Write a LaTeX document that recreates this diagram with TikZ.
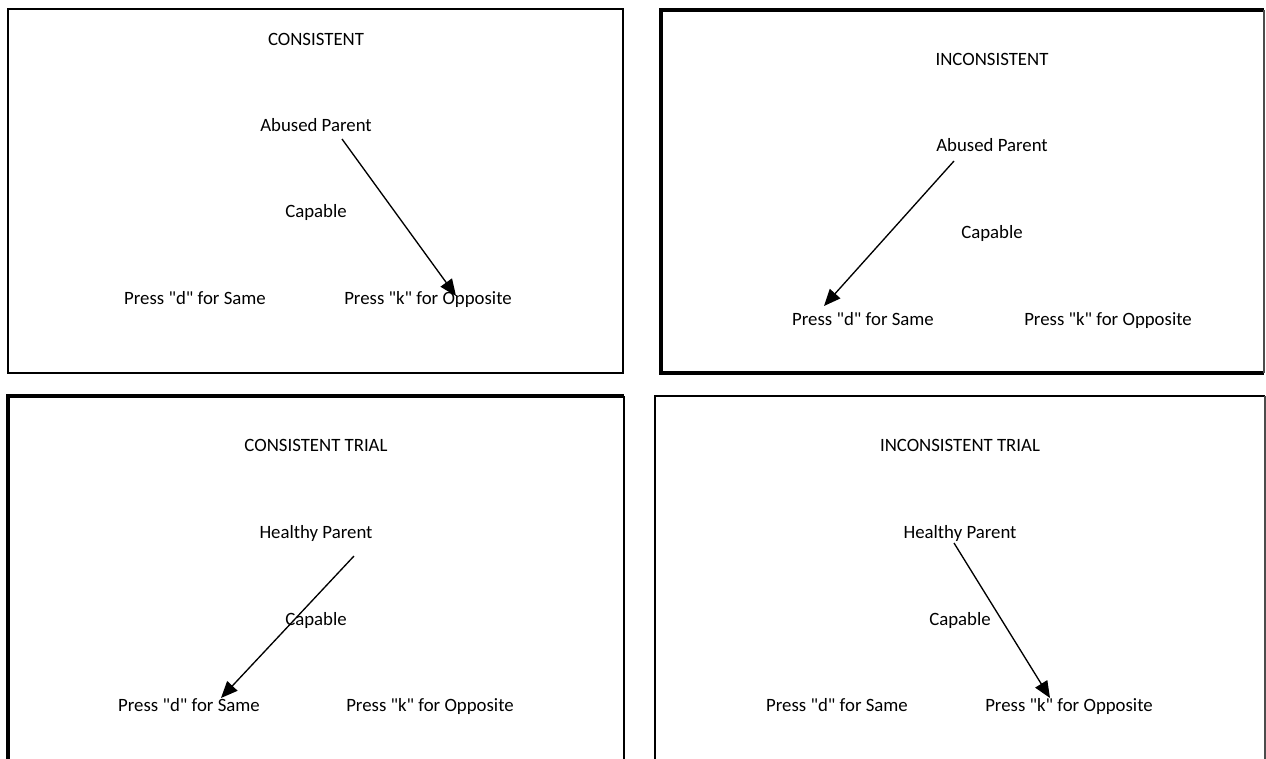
\documentclass[tikz,border=0pt]{standalone}
\usepackage{fontspec}
\setmainfont{Carlito}
\usetikzlibrary{arrows.meta}
\newcommand{\qq}{\textquotedbl}
\begin{document}
\begin{tikzpicture}[x=0.75pt,y=-0.75pt,
  lbl/.style={font=\fontsize{14.1}{16}\selectfont, anchor=base, inner sep=0pt},
  thinframe/.style={draw=black, line width=1.2pt},
  thickframe/.style={draw=black, line width=2.3pt},
  faintframe/.style={draw=black!70, line width=0.9pt},
  choice/.style={draw=black, line width=1pt, -{Triangle[length=12.5pt, width=10.5pt]}, shorten >=0pt}
]
\useasboundingbox (0,0) rectangle (1266,758);
\fill[white] (0,0) rectangle (1266,758);

% ---------- Panel 1: CONSISTENT ----------
\draw[thinframe] (8,9) rectangle (623,373);
\node[lbl] (t1) at (316,45) {CONSISTENT};
\node[lbl] (p1) at (316,131) {Abused Parent};
\node[lbl] (c1) at (316,217) {Capable};
\node[lbl] (d1) at (195,304) {Press \qq d\qq{} for Same};
\node[lbl] (k1) at (428,304) {Press \qq k\qq{} for Opposite};
\coordinate (s1) at (342,139);
\coordinate (e1) at (456,296);
\draw[choice] (s1) -- (e1);

% ---------- Panel 2: INCONSISTENT ----------
\draw[thickframe] (1264,10) -- (661,10) -- (661,373) -- (1264,373);
\draw[faintframe] (1264,10) -- (1264,373);
\node[lbl] (t2) at (992,65) {INCONSISTENT};
\node[lbl] (p2) at (992,151) {Abused Parent};
\node[lbl] (c2) at (992,238) {Capable};
\node[lbl] (d2) at (863,325) {Press \qq d\qq{} for Same};
\node[lbl] (k2) at (1108,325) {Press \qq k\qq{} for Opposite};
\coordinate (s2) at (954,161);
\coordinate (e2) at (824,306);
\draw[choice] (s2) -- (e2);

% ---------- Panel 3: CONSISTENT TRIAL ----------
\draw[thickframe] (8,762) -- (8,396) -- (624,396);
\draw[thinframe] (624,396) -- (624,762);
\node[lbl] (t3) at (316,451) {CONSISTENT TRIAL};
\node[lbl] (p3) at (316,538) {Healthy Parent};
\node[lbl] (c3) at (316,625) {Capable};
\node[lbl] (d3) at (189,711) {Press \qq d\qq{} for Same};
\node[lbl] (k3) at (430,711) {Press \qq k\qq{} for Opposite};
\coordinate (s3) at (354,556);
\coordinate (e3) at (221,698);
\draw[choice] (s3) -- (e3);

% ---------- Panel 4: INCONSISTENT TRIAL ----------
\draw[thinframe] (655,762) -- (655,396) -- (1265,396);
\draw[faintframe] (1265,396) -- (1265,762);
\node[lbl] (t4) at (960,451) {INCONSISTENT TRIAL};
\node[lbl] (p4) at (960,538) {Healthy Parent};
\node[lbl] (c4) at (960,625) {Capable};
\node[lbl] (d4) at (837,711) {Press \qq d\qq{} for Same};
\node[lbl] (k4) at (1069,711) {Press \qq k\qq{} for Opposite};
\coordinate (s4) at (954,543);
\coordinate (e4) at (1050,698);
\draw[choice] (s4) -- (e4);
\end{tikzpicture}
\end{document}
